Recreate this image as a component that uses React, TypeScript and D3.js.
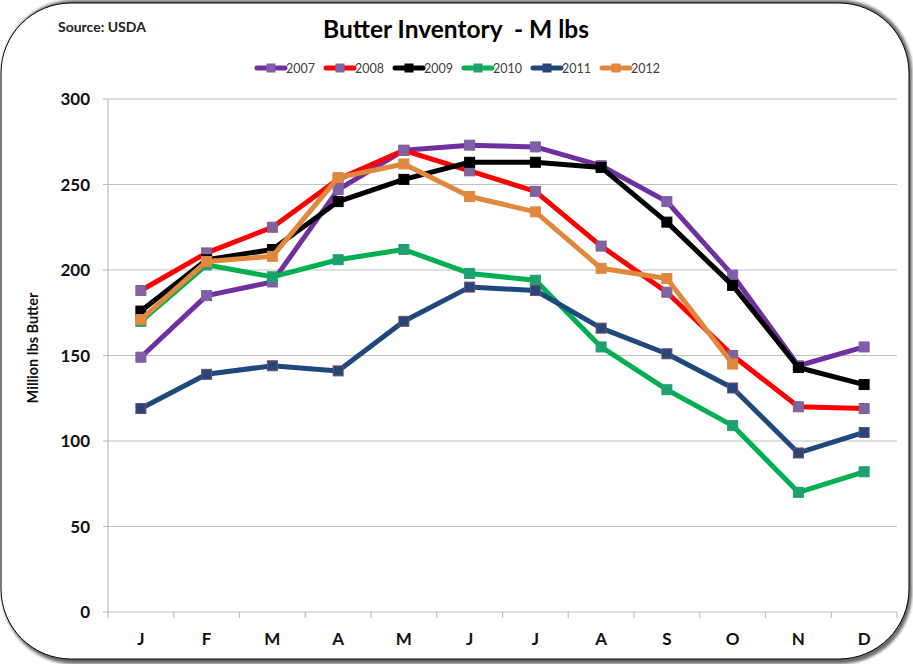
import React from "react";
import * as d3 from "d3";

const months = ["J", "F", "M", "A", "M", "J", "J", "A", "S", "O", "N", "D"];
const yTicks = [0, 50, 100, 150, 200, 250, 300];
const seriesNames = ["2007", "2008", "2009", "2010", "2011", "2012"];
const v2007 = [149, 185, 193, 247, 270, 273, 272, 261, 240, 197, 144, 155];
const v2008 = [188, 210, 225, 253, 270, 258, 246, 214, 187, 150, 120, 119];
const v2009 = [176, 206, 212, 240, 253, 263, 263, 260, 228, 191, 143, 133];
const v2010 = [170, 203, 196, 206, 212, 198, 194, 155, 130, 109, 70, 82];
const v2011 = [119, 139, 144, 141, 170, 190, 188, 166, 151, 131, 93, 105];
const v2012: (number | null)[] = [171, 205, 208, 254, 262, 243, 234, 201, 195, 145, null, null];

const lineColors = ["#7030A0", "#FF0000", "#000000", "#00B050", "#1F497D", "#E0883E"];
const markerFill = ["#7F5FA8", "#7F64A2", "#000000", "#1FA070", "#26477A", "#E0883E"];
const markerStroke = ["#7F5FA8", "#8A5A8A", "#000000", "#1FA070", "#7A4A6A", "#E0883E"];

const allSeries = [v2007, v2008, v2009, v2010, v2011, v2012];

const W = 913, H = 664;
const left = 108, right = 897, top = 99, bottom = 612;
const font = "Lato, 'Open Sans', sans-serif";

export default function App() {
  const x = d3.scaleBand<number>().domain(d3.range(12)).range([left, right]);
  const y = d3.scaleLinear().domain([0, 300]).range([bottom, top]);
  const cx = (i: number) => (x(i) as number) + x.bandwidth() / 2;
  const line = d3
    .line<number | null>()
    .defined((d) => d !== null)
    .x((_, i) => cx(i))
    .y((d) => y(d as number));

  const legendX0 = 257;
  const legendStep = 69;

  return (
    <svg width={W} height={H} style={{ position: "absolute", left: 0, top: 0 }}>
      <defs>
        <filter id="sh" x="-5%" y="-5%" width="110%" height="110%">
          <feGaussianBlur stdDeviation="1.5" />
        </filter>
      </defs>
      <rect x={2} y={0} width={910} height={664} rx={72} ry={72} fill="#6a6a6a" filter="url(#sh)" />
      <rect x={1} y={3} width={908} height={656} rx={70} ry={70} fill="#fff" stroke="#000" strokeWidth={1} />

      <text x={58} y={32} fontFamily={font} fontWeight={700} fontSize={14} fill="#222">
        Source: USDA
      </text>
      <text
        x={456}
        y={38}
        textAnchor="middle"
        fontFamily={font}
        fontWeight={700}
        fontSize={24.5}
        fill="#000"
        style={{ whiteSpace: "pre" }}
      >
        {"Butter Inventory  - M lbs"}
      </text>

      {seriesNames.map((n, i) => {
        const lx = legendX0 + i * legendStep;
        return (
          <g key={n}>
            <line x1={lx} x2={lx + 28} y1={68} y2={68} stroke={lineColors[i]} strokeWidth={5} strokeLinecap="round" />
            <rect x={lx + 9.5} y={63.5} width={9} height={9} fill={markerFill[i]} />
            <text x={lx + 29} y={72.5} fontFamily={font} fontSize={12.5} fill="#404040">
              {n}
            </text>
          </g>
        );
      })}

      {yTicks.map((t) => (
        <g key={t}>
          {t > 0 && <line x1={left} x2={right} y1={y(t)} y2={y(t)} stroke="#C0C0C0" strokeWidth={1.2} />}
          <line x1={left - 5} x2={left} y1={y(t)} y2={y(t)} stroke="#BFBFBF" strokeWidth={1.2} />
          <text x={90} y={y(t) + 6} textAnchor="end" fontFamily={font} fontWeight={700} fontSize={17} fill="#111">
            {t}
          </text>
        </g>
      ))}
      <line x1={left} x2={left} y1={top} y2={bottom} stroke="#BFBFBF" strokeWidth={1.2} />
      <line x1={left} x2={right} y1={bottom} y2={bottom} stroke="#BFBFBF" strokeWidth={1.2} />
      {d3.range(13).map((i) => {
        const xx = i < 12 ? (x(i) as number) : right;
        return <line key={i} x1={xx} x2={xx} y1={bottom} y2={bottom + 6} stroke="#BFBFBF" strokeWidth={1.2} />;
      })}
      {months.map((m, i) => (
        <text key={i} x={cx(i)} y={645} textAnchor="middle" fontFamily={font} fontWeight={700} fontSize={17} fill="#111">
          {m}
        </text>
      ))}
      <text
        transform={`translate(38, 348) rotate(-90)`}
        textAnchor="middle"
        fontFamily={font}
        fontWeight={700}
        fontSize={14.5}
        fill="#111"
      >
        Million lbs Butter
      </text>

      {allSeries.map((s, si) => (
        <g key={si}>
          <path d={line(s) || ""} fill="none" stroke={lineColors[si]} strokeWidth={5} strokeLinejoin="round" />
          {s.map((v, i) =>
            v === null ? null : (
              <rect
                key={i}
                x={cx(i) - 5}
                y={y(v) - 5}
                width={10}
                height={10}
                fill={markerFill[si]}
                stroke={markerStroke[si]}
                strokeWidth={1}
              />
            )
          )}
        </g>
      ))}
    </svg>
  );
}
